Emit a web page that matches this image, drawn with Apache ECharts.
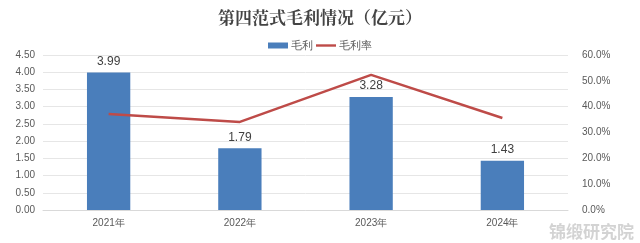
<!DOCTYPE html>
<html><head><meta charset="utf-8">
<script src="https://cdn.jsdelivr.net/npm/echarts@6/dist/echarts.min.js"></script>
<style>html,body{margin:0;padding:0;background:#fff}#c{width:640px;height:243px}</style>
</head><body><div id="c"></div>
<script>
const categories = ['2021年','2022年','2023年','2024年'];
const grossProfit = [3.99, 1.79, 3.28, 1.43];
const grossMargin = [37.2, 34.1, 52.3, 35.6];
const chart = echarts.init(document.getElementById('c'));
chart.setOption({
  animation:false,
  title:{text:'第四范式毛利情况（亿元）',left:'center',top:4,textStyle:{fontFamily:'Noto Serif CJK SC, serif',fontSize:17,fontWeight:'bold',color:'#444'}},
  legend:{top:35,left:'center',itemGap:3,itemWidth:20,itemHeight:6,textStyle:{fontSize:11,color:'#595959',padding:[0,0,0,-2]},
    data:[{name:'毛利',icon:'rect'},{name:'毛利率',icon:'path://M0,0L20,0L20,2.4L0,2.4Z'}]},
  grid:{left:43,right:72,top:55,bottom:33},
  xAxis:{type:'category',data:categories,axisTick:{show:false},axisLine:{lineStyle:{color:'#d9d9d9'}},
    axisLabel:{color:'#595959',fontSize:10,margin:8}},
  yAxis:[
    {type:'value',min:0,max:4.5,interval:0.5,axisLabel:{formatter:v=>v.toFixed(2),color:'#595959',fontSize:10},
      splitLine:{lineStyle:{color:'#e6e6e6'}}},
    {type:'value',min:0,max:60,interval:10,axisLabel:{formatter:v=>v.toFixed(1)+'%',color:'#595959',fontSize:10,margin:14},
      splitLine:{show:false}}
  ],
  series:[
    {name:'毛利',type:'bar',data:grossProfit,barWidth:'33%',itemStyle:{color:'#4a7ebb'},
      label:{show:true,position:'top',color:'#404040',fontSize:12,formatter:p=>p.value.toFixed(2)}},
    {name:'毛利率',type:'line',yAxisIndex:1,data:grossMargin,symbol:'none',lineStyle:{color:'#be4b48',width:2.5},itemStyle:{color:'#be4b48'}}
  ],
  graphic:[{type:'text',right:6,bottom:3,style:{text:'锦缎研究院',fill:'rgba(200,200,200,0.8)',font:'bold 17px "Noto Sans CJK SC"'}}]
});
</script></body></html>
